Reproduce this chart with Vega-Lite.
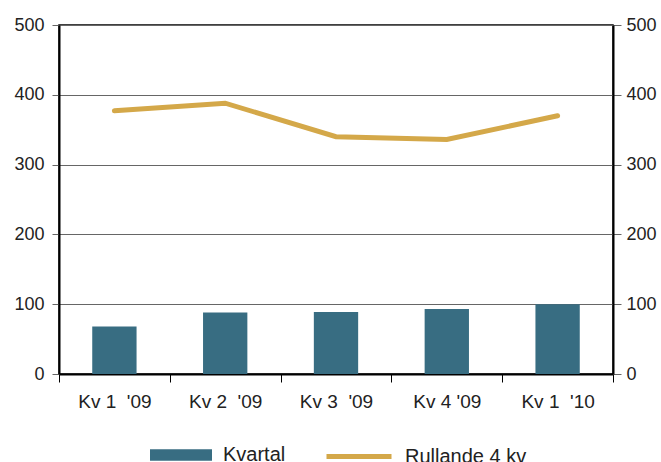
{
  "$schema": "https://vega.github.io/schema/vega-lite/v6.json",
  "width": 554,
  "height": 349,
  "autosize": "none",
  "padding": {"left": 59, "top": 25, "right": 48, "bottom": 88},
  "config": {
    "font": "Liberation Sans",
    "view": {"stroke": "#000000", "strokeWidth": 1.5},
    "axis": {"labelFont": "Liberation Sans", "labelColor": "#222222", "labelFontSize": 18}
  },
  "data": {
    "values": [
      {"kv": "Kv 1\u00a0 '09", "kvartal": 68, "rullande": 377},
      {"kv": "Kv 2\u00a0 '09", "kvartal": 88, "rullande": 388},
      {"kv": "Kv 3\u00a0 '09", "kvartal": 89, "rullande": 340},
      {"kv": "Kv 4 '09", "kvartal": 93, "rullande": 336},
      {"kv": "Kv 1\u00a0 '10", "kvartal": 100, "rullande": 370}
    ]
  },
  "encoding": {
    "x": {
      "field": "kv",
      "type": "nominal",
      "sort": null,
      "scale": {"paddingInner": 0, "paddingOuter": 0},
      "axis": {
        "title": null,
        "labelAngle": 0,
        "labelFontSize": 19,
        "domainColor": "#000000",
        "domainWidth": 2,
        "tickColor": "#000000",
        "tickWidth": 1,
        "tickSize": 8,
        "tickBand": "extent",
        "labelPadding": 10,
        "grid": false
      }
    }
  },
  "layer": [
    {
      "mark": {"type": "bar", "width": {"band": 0.4}},
      "encoding": {
        "y": {
          "field": "kvartal",
          "type": "quantitative",
          "scale": {"domain": [0, 500], "nice": false},
          "axis": {
            "title": null,
            "values": [0, 100, 200, 300, 400, 500],
            "grid": true,
            "gridColor": "#666666",
            "gridWidth": 1,
            "domainColor": "#000000",
            "domainWidth": 2,
            "tickColor": "#666666",
            "tickSize": 7,
            "labelPadding": 8
          }
        },
        "color": {
          "datum": "Kvartal",
          "scale": {"range": ["#386d82"]},
          "legend": {
            "title": null,
            "orient": "none",
            "legendX": 91,
            "legendY": 399,
            "symbolType": "M-1,-0.185H1V0.185H-1Z",
            "symbolSize": 3844,
            "symbolStrokeWidth": 0,
            "symbolOpacity": 1,
            "labelFontSize": 20,
            "labelColor": "#222222",
            "labelOffset": 11,
            "padding": 0
          }
        }
      }
    },
    {
      "mark": {"type": "line", "strokeWidth": 5, "strokeCap": "round"},
      "encoding": {
        "y": {
          "field": "rullande",
          "type": "quantitative",
          "scale": {"domain": [0, 500], "nice": false},
          "axis": {
            "title": null,
            "orient": "right",
            "values": [0, 100, 200, 300, 400, 500],
            "grid": false,
            "domainColor": "#000000",
            "domainWidth": 2,
            "tickColor": "#666666",
            "tickSize": 8,
            "labelPadding": 5
          }
        },
        "stroke": {
          "datum": "Rullande 4 kv",
          "scale": {"range": ["#d4a849"]},
          "legend": {
            "title": null,
            "orient": "none",
            "legendX": 265,
            "legendY": 396.5,
            "symbolType": "stroke",
            "symbolSize": 4225,
            "symbolStrokeWidth": 5,
            "labelFontSize": 20,
            "labelColor": "#222222",
            "labelOffset": 11,
            "padding": 0
          }
        }
      }
    }
  ],
  "resolve": {"scale": {"y": "independent"}}
}
